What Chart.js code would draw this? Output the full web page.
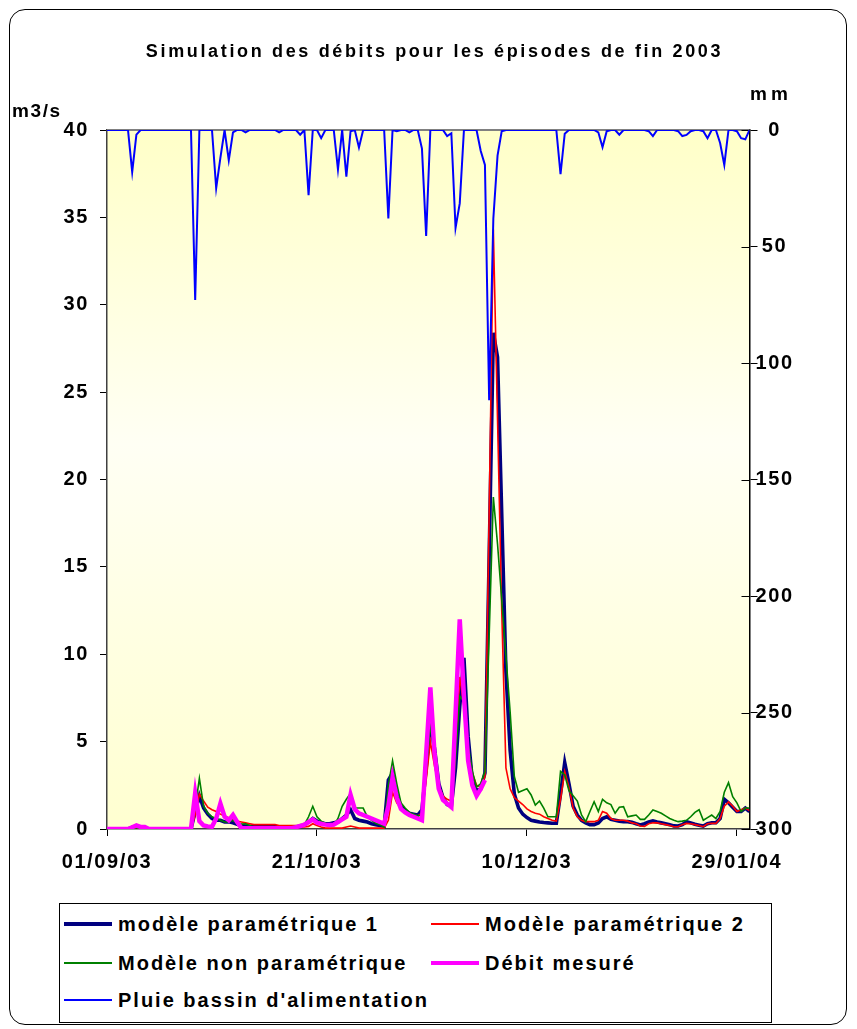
<!DOCTYPE html>
<html>
<head>
<meta charset="utf-8">
<script src="https://cdn.jsdelivr.net/npm/chart.js@4.4.0/dist/chart.umd.min.js"></script>
<style>
  html, body { margin: 0; padding: 0; background: #fff; }
  body { width: 857px; height: 1029px; position: relative; overflow: hidden;
         font-family: "Liberation Sans", Arial, sans-serif; font-weight: bold; color: #000; }
  #frame { position: absolute; left: 9px; top: 9px; width: 836px; height: 1014px;
           border: 1.5px solid #000; border-radius: 16px; }
  #chart { position: absolute; left: 0; top: 0; }
  .txt { position: absolute; white-space: nowrap; letter-spacing: 1.6px; }
  #title { left: 6px; width: 857px; top: 41px; text-align: center; font-size: 18px; letter-spacing: 2.65px; }
  #unitL { left: 12px; top: 100px; font-size: 19px; }
  #unitR { left: 750px; top: 83px; font-size: 19px; letter-spacing: 4px; }
  #legend { position: absolute; left: 59px; top: 903px; width: 711px; height: 118px;
            border: 1px solid #000; background: #fff; }
  .item { position: absolute; width: 350px; height: 24px; font-size: 20px;
          letter-spacing: 2px; white-space: nowrap; }
  .item .line { position: absolute; left: 0; width: 48px; }
  .item .name { position: absolute; left: 54px; top: 0; line-height: 24px; }
</style>
</head>
<body>
<div id="frame"></div>
<canvas id="chart" width="857" height="1029"></canvas>
<div class="txt" id="title">Simulation des débits pour les épisodes de fin 2003</div>
<div class="txt" id="unitL">m3/s</div>
<div class="txt" id="unitR">mm</div>
<div id="legend"></div>

<script>
// Débits et pluie, septembre 2003 - février 2004 (un point par jour)

const START = new Date(2003, 8, 1);
const DAYS = Array.from({ length: 154 }, (_, i) => i);

// pluie bassin d'alimentation (mm), axe de droite inversé
const pluie = [
    0, 0, 0, 0, 0, 0, 18, 2, 0, 0,
    0, 0, 0, 0, 0, 0, 0, 0, 0, 0,
    0, 73, 0, 0, 0, 0, 25, 12, 0, 13,
    1, 0, 0, 1, 0, 0, 0, 0, 0, 0,
    0, 1, 0, 0, 0, 0, 2, 0, 28, 0,
    0, 3.5, 0, 0, 0, 17, 0, 20, 0.5, 0,
    7.5, 0, 0, 0, 0, 0, 0, 38, 0, 0.5,
    0, 0, 1, 0, 0, 8, 45.5, 0, 0, 0,
    0, 2.6, 1.4, 42, 31.5, 0, 0, 0, 0, 9,
    15, 116, 38, 11, 0.5, 0, 0, 0, 0, 0,
    0, 0, 0, 0, 0, 0, 0, 0, 19, 1.6,
    0, 0, 0, 0, 0, 0, 0, 1, 7.4, 0.5,
    0, 0, 2, 0, 0, 0, 0, 0, 0, 0.5,
    2.6, 0, 0, 0, 0, 0, 0.5, 2.6, 2.1, 0.5,
    0, 0, 0.5, 3.5, 0, 0, 5.6, 15, 0, 0,
    0.5, 3.5, 4, 0
];

// modèle paramétrique 1 (m3/s)
const modele1 = [
    0, 0, 0, 0, 0, 0, 0.1, 0.1, 0.1, 0,
    0, 0, 0, 0, 0, 0, 0, 0, 0, 0,
    0, 1.0, 1.9, 1.2, 0.85, 0.6, 0.5, 0.5, 0.4, 0.42,
    0.35, 0.27, 0.2, 0.17, 0.15, 0.12, 0.12, 0.12, 0.12, 0.12,
    0.12, 0.12, 0.12, 0.12, 0.12, 0.12, 0.15, 0.25, 0.4, 0.6,
    0.45, 0.35, 0.3, 0.3, 0.35, 0.4, 0.6, 0.8, 1.1, 0.6,
    0.5, 0.45, 0.4, 0.3, 0.25, 0.2, 0.15, 2.8, 3.2, 2.0,
    1.3, 1.05, 0.9, 0.85, 0.8, 1.1, 3.5, 6.1, 4.6, 2.6,
    1.8, 1.4, 1.3, 3.5, 7.0, 9.8, 5.3, 2.8, 2.2, 2.3,
    3.2, 15.5, 28.4, 27.0, 18, 9, 4.5, 2.0, 1.2, 0.85,
    0.65, 0.5, 0.45, 0.4, 0.37, 0.35, 0.33, 0.33, 2.0, 3.8,
    2.6, 1.3, 0.8, 0.5, 0.35, 0.25, 0.25, 0.35, 0.6, 0.7,
    0.55, 0.5, 0.45, 0.42, 0.42, 0.38, 0.3, 0.23, 0.3, 0.4,
    0.46, 0.4, 0.35, 0.3, 0.25, 0.18, 0.17, 0.25, 0.42, 0.35,
    0.27, 0.22, 0.17, 0.3, 0.36, 0.36, 0.6, 1.7, 1.5, 1.25,
    1.0, 1.0, 1.2, 1.0
];

// modèle paramétrique 2 (m3/s)
const modele2 = [
    0, 0, 0, 0, 0, 0, 0, 0, 0, 0,
    0, 0, 0, 0, 0, 0, 0, 0, 0, 0,
    0, 0.8, 2.0, 1.6, 1.25, 1.1, 1.0, 0.85, 0.75, 0.65,
    0.55, 0.45, 0.4, 0.35, 0.3, 0.25, 0.25, 0.25, 0.25, 0.25,
    0.25, 0.2, 0.2, 0.2, 0.2, 0.2, 0.12, 0.12, 0.15, 0.3,
    0.2, 0.12, 0.05, 0.05, 0.05, 0.05, 0.05, 0.12, 0.17, 0.12,
    0.05, 0.05, 0.05, 0.05, 0.05, 0.05, 0.05, 0.5, 2.1, 1.5,
    1.2, 1.0, 0.9, 0.8, 0.75, 0.9, 2.8, 5.0, 3.6, 2.5,
    1.9, 1.7, 1.6, 4.5, 8.7, 7.0, 4.5, 3.2, 2.5, 2.4,
    3.0, 18, 34.3, 23.4, 12.5, 3.5, 2.3, 1.8, 1.6, 1.4,
    1.15, 1.0, 0.9, 0.85, 0.7, 0.6, 0.5, 0.45, 1.7, 3.3,
    2.4, 1.2, 0.7, 0.5, 0.42, 0.42, 0.42, 0.5, 1.0, 0.9,
    0.6, 0.5, 0.5, 0.5, 0.45, 0.35, 0.3, 0.17, 0.15, 0.3,
    0.36, 0.35, 0.3, 0.25, 0.2, 0.13, 0.13, 0.25, 0.32, 0.3,
    0.25, 0.2, 0.13, 0.3, 0.32, 0.32, 0.6, 1.3, 1.55, 1.3,
    1.0, 1.1, 1.2, 1.05
];

// modèle non paramétrique (m3/s)
const modeleNP = [
    0, 0, 0, 0, 0, 0, 0, 0, 0, 0,
    0, 0, 0, 0, 0, 0, 0, 0, 0, 0,
    0, 1.2, 2.9, 1.3, 0.9, 0.7, 0.6, 0.5, 0.4, 0.4,
    0.5, 0.3, 0.28, 0.3, 0.2, 0.12, 0.12, 0.12, 0.12, 0.12,
    0.12, 0.12, 0.12, 0.12, 0.12, 0.15, 0.25, 0.25, 0.7, 1.3,
    0.7, 0.45, 0.33, 0.25, 0.2, 0.6, 1.3, 1.7, 2.04, 1.2,
    1.2, 1.2, 0.7, 0.5, 0.33, 0.25, 0.1, 2.5, 3.9, 2.6,
    1.5, 1.2, 0.95, 0.85, 0.75, 0.8, 3.3, 6.0, 4.0, 2.5,
    1.8, 1.5, 1.3, 4.0, 7.6, 7.3, 4.8, 3.3, 2.4, 2.6,
    3.3, 11, 19.0, 16.3, 13.1, 9.9, 6.7, 3.0, 2.1, 2.2,
    2.3, 1.95, 1.37, 1.6, 1.2, 0.7, 0.7, 0.7, 3.3, 3.1,
    2.2, 1.9, 1.6, 0.8, 0.42, 1.0, 1.56, 1.0, 1.7, 1.5,
    1.4, 0.9, 1.24, 1.28, 0.7, 0.75, 0.8, 0.55, 0.55, 0.8,
    1.09, 1.0, 0.9, 0.75, 0.6, 0.5, 0.42, 0.45, 0.5, 0.7,
    0.95, 1.1, 0.5, 0.65, 0.8, 0.6, 1.0, 2.1, 2.65, 1.85,
    1.5, 1.0, 1.2, 1.2
];

// débit mesuré (m3/s), pas de mesure après le 30/11/03
const debitMesure = [
    0, 0, 0, 0, 0, 0, 0.1, 0.2, 0.12, 0.12,
    0, 0, 0, 0, 0, 0, 0, 0, 0, 0,
    0, 2.05, 0.45, 0.2, 0.15, 0.13, 0.6, 1.45, 0.7, 0.5,
    0.8, 0.4, 0.05, 0.05, 0.05, 0.05, 0.05, 0.05, 0.05, 0.05,
    0.05, 0.05, 0.05, 0.05, 0.05, 0.1, 0.17, 0.25, 0.4, 0.55,
    0.36, 0.3, 0.25, 0.23, 0.25, 0.4, 0.55, 0.7, 1.95, 1.13,
    0.9, 0.8, 0.7, 0.6, 0.5, 0.4, 0.3, 1.3, 2.95, 1.8,
    1.15, 0.95, 0.8, 0.7, 0.6, 0.5, 4.3, 8.1, 4.3, 2.3,
    1.66, 1.45, 1.25, 6.6, 12.0, 7.6, 3.9, 2.5, 1.9, 2.3,
    2.8
];

const Q_TICKS = [0, 5, 10, 15, 20, 25, 30, 35, 40];
const P_TICKS = [0, 50, 100, 150, 200, 250, 300];
const DATE_TICKS = [0, 50, 100, 150];

const FONT = '"Liberation Sans", Arial, sans-serif';
const SPACING = '1.6px';

function dayLabel(d) {
    const dt = new Date(START.getTime());
    dt.setDate(dt.getDate() + d);
    const dd = String(dt.getDate()).padStart(2, '0');
    const mm = String(dt.getMonth() + 1).padStart(2, '0');
    const yy = String(dt.getFullYear()).slice(2);
    return `${dd}/${mm}/${yy}`;
}

const series = [
    { label: 'Pluie bassin d\'alimentation', data: pluie, color: '#0000FF', width: 2, axis: 'yP' },
    { label: 'Débit mesuré', data: debitMesure, color: '#FF00FF', width: 4.5, axis: 'yQ' },
    { label: 'Modèle non paramétrique', data: modeleNP, color: '#008000', width: 1.6, axis: 'yQ' },
    { label: 'Modèle paramétrique 2', data: modele2, color: '#FF0000', width: 1.6, axis: 'yQ' },
    { label: 'modèle paramétrique 1', data: modele1, color: '#000080', width: 3.6, axis: 'yQ' }
];

// fond du graphe, bordure grise et graduations croisées de l'axe de droite
const plotDecor = {
    id: 'plotDecor',
    beforeUpdate(chart) {
        chart.ctx.letterSpacing = SPACING;
    },
    beforeDraw(chart) {
        const { ctx, chartArea: a } = chart;
        ctx.letterSpacing = SPACING;
        const g = ctx.createLinearGradient(0, a.top, 0, a.bottom);
        g.addColorStop(0, '#FFFFC8');
        g.addColorStop(0.45, '#FFFFF4');
        g.addColorStop(1, '#FFFFD0');
        ctx.save();
        ctx.fillStyle = g;
        ctx.fillRect(a.left, a.top, a.right - a.left, a.bottom - a.top);
        ctx.restore();
    },
    beforeDatasetsDraw(chart) {
        const { ctx, chartArea: a } = chart;
        ctx.save();
        ctx.strokeStyle = '#808080';
        ctx.lineWidth = 2;
        ctx.beginPath();
        ctx.moveTo(a.left, a.top);
        ctx.lineTo(a.right, a.top);
        ctx.stroke();
        const yP = chart.scales.yP;
        ctx.strokeStyle = '#000';
        ctx.lineWidth = 1;
        ctx.beginPath();
        P_TICKS.forEach(v => {
            const y = Math.round(yP.getPixelForValue(v)) + 0.5;
            ctx.moveTo(a.right - 8, y);
            ctx.lineTo(a.right, y);
        });
        ctx.stroke();
        ctx.restore();
    }
};

const tickFont = { family: FONT, size: 20, weight: 'bold' };

new Chart(document.getElementById('chart'), {
    type: 'line',
    data: {
        labels: DAYS,
        datasets: series.map(s => ({
            label: s.label,
            data: s.data,
            borderColor: s.color,
            backgroundColor: s.color,
            borderWidth: s.width,
            yAxisID: s.axis,
            pointRadius: 0,
            tension: 0,
            fill: false,
            spanGaps: false
        }))
    },
    options: {
        responsive: false,
        animation: false,
        layout: { padding: { top: 130, left: 0, right: 0, bottom: 0 } },
        plugins: {
            legend: { display: false },
            title: { display: false },
            tooltip: { enabled: false }
        },
        scales: {
            x: {
                type: 'linear',
                min: 0,
                max: 153,
                afterFit: s => { s.height = 200; },
                afterBuildTicks: s => { s.ticks = DATE_TICKS.map(v => ({ value: v })); },
                ticks: {
                    autoSkip: false,
                    maxRotation: 0,
                    padding: 14,
                    color: '#000',
                    font: tickFont,
                    callback: v => dayLabel(v)
                },
                grid: { drawOnChartArea: false, tickLength: 7, color: '#000' },
                border: { display: true, color: '#404040', width: 1.5 }
            },
            yQ: {
                position: 'left',
                min: 0,
                max: 40,
                afterFit: s => { s.width = 107; },
                afterBuildTicks: s => { s.ticks = Q_TICKS.map(v => ({ value: v })); },
                ticks: { padding: 11, color: '#000', font: tickFont },
                grid: { drawOnChartArea: false, tickLength: 7, color: '#000' },
                border: { display: true, color: '#404040', width: 1.5 }
            },
            yP: {
                position: 'right',
                reverse: true,
                min: 0,
                max: 300,
                afterFit: s => { s.width = 107.5; },
                afterBuildTicks: s => { s.ticks = P_TICKS.map(v => ({ value: v })); },
                ticks: { padding: -2, crossAlign: 'center', color: '#000', font: tickFont },
                grid: { drawOnChartArea: false, tickLength: 8, color: '#000' },
                border: { display: true, color: '#000', width: 1.5 }
            }
        }
    },
    plugins: [plotDecor]
});

// légende façon Excel, deux colonnes
const legendItems = [
    { name: 'modèle paramétrique 1', color: '#000080', width: 4, x: 4, y: 8 },
    { name: 'Modèle paramétrique 2', color: '#FF0000', width: 1.5, x: 371, y: 8 },
    { name: 'Modèle non paramétrique', color: '#008000', width: 1.5, x: 4, y: 47 },
    { name: 'Débit mesuré', color: '#FF00FF', width: 4, x: 371, y: 47 },
    { name: 'Pluie bassin d\'alimentation', color: '#0000FF', width: 1.5, x: 4, y: 84 }
];

const legend = document.getElementById('legend');
let html = '';
legendItems.forEach(it => {
    html += `
        <div class="item" style="left:${it.x}px; top:${it.y}px;">
            <div class="line" style="top:${12 - it.width / 2}px; height:${it.width}px; background:${it.color};"></div>
            <div class="name">${it.name}</div>
        </div>
    `;
});
legend.innerHTML = html;
</script>
</body>
</html>
